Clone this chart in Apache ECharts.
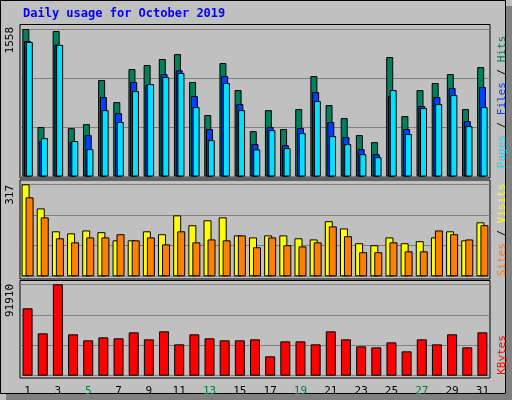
<!DOCTYPE html>
<html><head><meta charset="utf-8">
<script src="https://cdn.jsdelivr.net/npm/echarts@6/dist/echarts.min.js"></script>
<style>html,body{margin:0;padding:0;background:#c0c0c0}#chart{width:512px;height:400px}</style>
</head><body><div id="chart"></div>
<script>
// daily values
var days = ['1','2','3','4','5','6','7','8','9','10','11','12','13','14','15','16','17','18','19','20','21','22','23','24','25','26','27','28','29','30','31'];
var weekend = ['5','6','12','13','19','20','26','27'];
var hits  = [1558,522,1537,511,553,1019,786,1135,1177,1241,1293,998,649,1198,913,479,701,501,712,1061,754,617,437,363,1262,638,913,987,1082,712,1156];
var files = [1431,374,1392,363,437,839,670,998,966,1082,1121,849,501,1061,765,342,522,331,511,892,575,416,289,236,849,501,744,839,934,585,945];
var pages = [1421,405,1389,374,289,701,575,902,976,1050,1093,733,384,987,701,286,490,300,458,797,427,342,236,204,913,448,723,765,860,532,733];
var visits = [317,234,155,148,158,152,124,124,155,145,210,176,193,203,141,134,141,141,131,127,190,165,114,107,134,114,121,134,155,124,186];
var sites  = [272,203,131,117,134,134,145,124,134,110,155,117,127,124,141,100,134,107,103,117,172,138,83,83,117,86,86,158,145,127,176];
var kbytes = [67760,42600,91910,41590,35560,38580,37570,43610,36560,44610,31530,41590,37570,35560,35560,36560,19460,34550,34550,31530,44610,36560,29520,28510,33540,24490,36560,31530,41590,28510,43610];
var maxLabels = ['1558','317','91910'];

var font = '"DejaVu Sans Mono", monospace';
var myChart = echarts.init(document.getElementById('chart'));
var L = 20, R = 22;
function grid(top, h){ return {left: L, right: R, top: top, height: h}; }
function xa(i, show){
    return {type:'category', gridIndex:i, data:days, axisTick:{show:false}, axisLine:{show:false},
        axisLabel:{show:show, fontFamily:font, fontSize:11, margin:10,
            color:function(v){ return weekend.indexOf(v) >= 0 ? '#008040' : '#000'; }}};
}
function ya(i, max){
    return {type:'value', gridIndex:i, min:0, max:max, interval:max/3, axisLabel:{show:false},
        splitLine:{lineStyle:{color:'#808080', width:1}}, axisLine:{show:false}};
}
function bar(name, data, i, color, w, gap){
    return {name:name, type:'bar', data:data, xAxisIndex:i, yAxisIndex:i, barWidth:w, barGap:gap,
        itemStyle:{color:color, borderColor:'#000', borderWidth:1}, animation:false};
}
function frame(y1, y2){
    return {type:'rect', shape:{x:L, y:y1, width:512-L-R, height:y2-y1}, silent:true, z:-1,
        style:{fill:'transparent', stroke:'#000', lineWidth:1}};
}
function vtext(x, y, txt, rich){
    return {type:'text', x:x, y:y, rotation:Math.PI/2,
        style:{text:txt, rich:rich, font:'11px ' + font, fill:'#000', align:'right', verticalAlign:'middle'}};
}
option = {
    backgroundColor:'#c0c0c0',
    title:{text:'Daily usage for October 2019', left:18, top:3,
        textStyle:{color:'#0000ff', fontFamily:font, fontSize:12, fontWeight:'bold'}},
    grid:[grid(29,147.5), grid(184.3,92), grid(284.3,91.4)],
    xAxis:[xa(0,false), xa(1,false), xa(2,true)],
    yAxis:[ya(0,1558), ya(1,317), ya(2,91910)],
    series:[
        bar('Hits', hits, 0, '#00805c', 7, '-75%'),
        bar('Files', files, 0, '#0040ff', 7, '-75%'),
        bar('Pages', pages, 0, '#00e0ff', 7, '-75%'),
        bar('Visits', visits, 1, '#ffff00', 8, '-50%'),
        bar('Sites', sites, 1, '#ff8000', 8, '-50%'),
        bar('KBytes', kbytes, 2, '#ff0000', 10, '0%')
    ],
    graphic:[
        {type:'rect', shape:{x:0.5, y:0.5, width:505, height:393}, silent:true, z:-2,
            style:{fill:'transparent', stroke:'#000', lineWidth:1}},
        {type:'rect', shape:{x:506, y:6, width:6, height:394}, silent:true, style:{fill:'#808080'}},
        {type:'rect', shape:{x:6, y:394, width:506, height:6}, silent:true, style:{fill:'#808080'}},
        frame(24.5,178), frame(180,279), frame(280.5,378),
        vtext(10, 27, maxLabels[0]), vtext(10, 185, maxLabels[1]), vtext(10, 284, maxLabels[2]),
        {type:'text', x:502, y:102, rotation:Math.PI/2, style:{
            text:'{p|Pages} {s|/} {f|Files} {s|/} {h|Hits}', align:'center', verticalAlign:'middle',
            font:'11px ' + font,
            rich:{p:{fill:'#00e0ff', font:'11px ' + font}, f:{fill:'#0040ff', font:'11px ' + font},
                  h:{fill:'#00805c', font:'11px ' + font}, s:{fill:'#000', font:'11px ' + font}}}},
        {type:'text', x:502, y:230, rotation:Math.PI/2, style:{
            text:'{a|Sites} {s|/} {b|Visits}', align:'center', verticalAlign:'middle',
            font:'11px ' + font,
            rich:{a:{fill:'#ff8000', font:'11px ' + font}, b:{fill:'#ffff00', font:'11px ' + font},
                  s:{fill:'#000', font:'11px ' + font}}}},
        {type:'text', x:502, y:355, rotation:Math.PI/2, style:{
            text:'KBytes', fill:'#ff0000', align:'center', verticalAlign:'middle', font:'11px ' + font}}
    ]
};
myChart.setOption(option);
</script></body></html>
